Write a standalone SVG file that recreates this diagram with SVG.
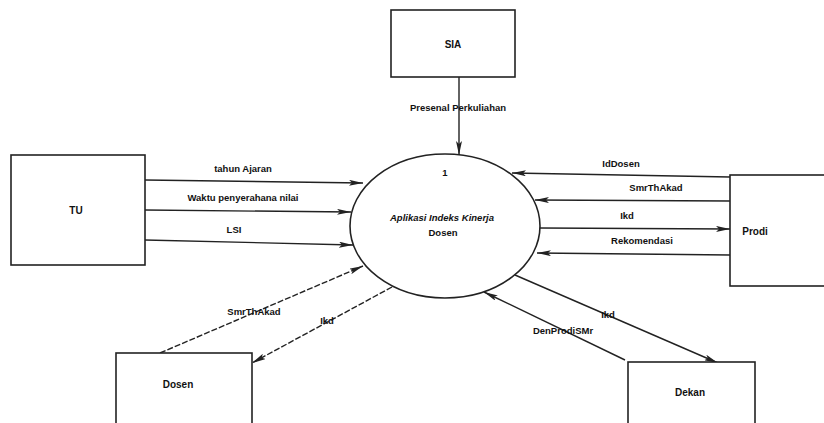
<svg xmlns="http://www.w3.org/2000/svg" width="824" height="423" viewBox="0 0 824 423">
<style>
.box{fill:#fff;stroke:#222;stroke-width:1.6}
.lbl{font-family:"Liberation Sans",Arial,sans-serif;font-weight:bold;font-size:9.5px;fill:#111;text-anchor:middle}
.nm{font-family:"Liberation Sans",Arial,sans-serif;font-weight:bold;font-size:10px;fill:#111;text-anchor:middle}
.ln{stroke:#222;stroke-width:1.4;fill:none;marker-end:url(#ah)}
.dash{stroke-dasharray:6 2}
</style>
<defs>
<marker id="ah" viewBox="0 0 14 6" refX="14" refY="3" markerWidth="14" markerHeight="6" markerUnits="userSpaceOnUse" orient="auto">
<path d="M0,0 L14,3 L0,6 L3,3 Z" fill="#222"/>
</marker>
</defs>
<rect width="824" height="423" fill="#fff"/>
<g id="connectors">
<line class="ln" x1="459" y1="77" x2="459" y2="155"/>
<text class="lbl" x="458" y="111">Presenal Perkuliahan</text>
<line class="ln" x1="145" y1="180" x2="363" y2="183"/>
<text class="lbl" x="243" y="172">tahun Ajaran</text>
<line class="ln" x1="145" y1="210" x2="351" y2="212"/>
<text class="lbl" x="243" y="201">Waktu penyerahana nilai</text>
<line class="ln" x1="145" y1="240" x2="353" y2="245"/>
<text class="lbl" x="234" y="233">LSI</text>
<line class="ln" x1="730" y1="177" x2="512" y2="173"/>
<text class="lbl" x="621" y="167">IdDosen</text>
<line class="ln" x1="730" y1="201" x2="535" y2="200"/>
<text class="lbl" x="656" y="191">SmrThAkad</text>
<line class="ln" x1="540" y1="228" x2="730" y2="229"/>
<text class="lbl" x="627" y="219">Ikd</text>
<line class="ln" x1="730" y1="255" x2="537" y2="253"/>
<text class="lbl" x="642" y="244">Rekomendasi</text>
<line class="ln dash" x1="160" y1="353" x2="363" y2="266"/>
<text class="lbl" x="254" y="315">SmrThAkad</text>
<line class="ln dash" x1="392" y1="287" x2="252" y2="363"/>
<text class="lbl" x="327" y="324">Ikd</text>
<line class="ln" x1="515" y1="275" x2="718" y2="363"/>
<text class="lbl" x="608" y="318">Ikd</text>
<line class="ln" x1="625" y1="360" x2="484" y2="292"/>
<text class="lbl" x="563" y="334">DenProdiSMr</text>
</g>
<g id="sia">
<rect class="box" x="391" y="10" width="124" height="67"/>
<text class="nm" x="453" y="48">SIA</text>
</g>
<g id="process">
<ellipse cx="445" cy="226" rx="95" ry="72" fill="#fff" stroke="#222" stroke-width="1.6"/>
<text class="lbl" x="445" y="176">1</text>
<text class="lbl" x="442" y="221" font-style="italic">Aplikasi Indeks Kinerja</text>
<text class="lbl" x="443" y="236">Dosen</text>
</g>
<g id="tu">
<rect class="box" x="11" y="155" width="134" height="110"/>
<text class="nm" x="76" y="214">TU</text>
</g>
<g id="prodi">
<rect class="box" x="730" y="175" width="100" height="111"/>
<text class="nm" x="755" y="235">Prodi</text>
</g>
<g id="dosen">
<rect class="box" x="116" y="353" width="136" height="80"/>
<text class="nm" x="178" y="388">Dosen</text>
</g>
<g id="dekan">
<rect class="box" x="628" y="362" width="127" height="70"/>
<text class="nm" x="690" y="396">Dekan</text>
</g>
</svg>
